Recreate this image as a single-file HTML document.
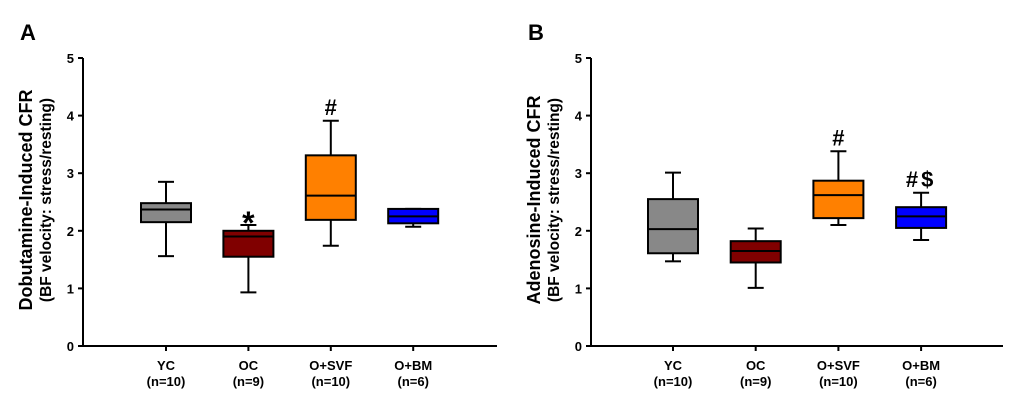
<!DOCTYPE html>
<html><head><meta charset="utf-8"><style>
body{margin:0;background:#fff}
svg text{font-family:"Liberation Sans",Arial,sans-serif;font-weight:bold}
</style></head><body>
<svg id="c" width="1020" height="413"></svg>
<script>
const categories=["YC","OC","O+SVF","O+BM"];
const nLabels=["(n=10)","(n=9)","(n=10)","(n=6)"];
const colors=["#888888","#800000","#ff8000","#0000ff"];
const yTicks=[0,1,2,3,4,5];
// [min,q1,median,q3,max]
const dobutamine=[[1.56,2.15,2.37,2.48,2.85],[0.93,1.55,1.9,2.0,2.1],[1.74,2.19,2.61,3.31,3.91],[2.07,2.13,2.25,2.38,2.38]];
const adenosine=[[1.47,1.61,2.03,2.55,3.01],[1.01,1.45,1.65,1.82,2.04],[2.1,2.22,2.62,2.87,3.38],[1.84,2.05,2.25,2.41,2.66]];
const dobMarks=["","*","#",""];
const adeMarks=["","","#","#$"];
const NS="http://www.w3.org/2000/svg";
const svg=document.getElementById('c');
function mk(t,a,p){const e=document.createElementNS(NS,t);for(const k in a)e.setAttribute(k,a[k]);(p||svg).appendChild(e);return e;}
function panel(cfg){
  const g=mk('g',{});
  
  
  const y=v=>346-v*57.6;
  const x=i=>cfg.cx0+i*cfg.step;
  let t=mk('text',{x:cfg.lx,y:40,'font-size':22},g);t.textContent=cfg.letter;
  
  const ax=mk('path',{d:`M${cfg.ax},58 V346 H${cfg.axEnd}`,stroke:'#000','stroke-width':2,fill:'none'},g);
  
  yTicks.forEach(v=>{
    mk('line',{x1:cfg.ax-5,x2:cfg.ax,y1:y(v),y2:y(v),stroke:'#000','stroke-width':2},g);
    const tt=mk('text',{x:cfg.ax-9,y:y(v)+5,'font-size':13,'text-anchor':'end'},g);tt.textContent=v;
    
  });
  const ty=mk('text',{transform:`translate(${cfg.tx},200) rotate(-90)`,'text-anchor':'middle','font-size':18},g);
  
  const s1=mk('tspan',{x:0,y:0},ty);s1.textContent=cfg.title;
  const s2=mk('tspan',{x:0,y:19,'font-size':15.5},ty);s2.textContent="(BF velocity: stress/resting)";
  categories.forEach((c,i)=>{
    const cx=x(i),d=cfg.data[i];
    mk('line',{x1:cx,x2:cx,y1:346,y2:351,stroke:'#000','stroke-width':2},g);
    const l=mk('text',{x:cx,y:370,'font-size':13,'text-anchor':'middle'},g);l.textContent=c;
    
    const l2=mk('text',{x:cx,y:386,'font-size':13,'text-anchor':'middle'},g);l2.textContent=nLabels[i];
    
    const bg=mk('g',{stroke:'#000','stroke-width':2},g);
    
    
    mk('line',{x1:cx,x2:cx,y1:y(d[0]),y2:y(d[4])},bg);
    mk('line',{x1:cx-8,x2:cx+8,y1:y(d[0]),y2:y(d[0])},bg);
    mk('line',{x1:cx-8,x2:cx+8,y1:y(d[4]),y2:y(d[4])},bg);
    mk('rect',{x:cx-25,y:y(d[3]),width:50,height:y(d[1])-y(d[3]),fill:colors[i]},bg);
    mk('line',{x1:cx-25,x2:cx+25,y1:y(d[2]),y2:y(d[2])},bg);
    if(cfg.marks[i]){
      const star=cfg.marks[i]=="*";
      const m=mk('text',{x:cx,y:y(d[4])-(star?-9:6),'font-size':star?32:22,'text-anchor':'middle','letter-spacing':cfg.marks[i].length>1?3:0},g);
      m.textContent=cfg.marks[i];
      
    }
  });
}
panel({name:'panel-a',letter:'A',lx:20,ax:83,axEnd:497,cx0:166,step:82.4,tx:32,title:'Dobutamine-Induced CFR',data:dobutamine,marks:dobMarks});
panel({name:'panel-b',letter:'B',lx:528,ax:591,axEnd:1003,cx0:673,step:82.7,tx:540,title:'Adenosine-Induced CFR',data:adenosine,marks:adeMarks});
</script>
</body></html>
